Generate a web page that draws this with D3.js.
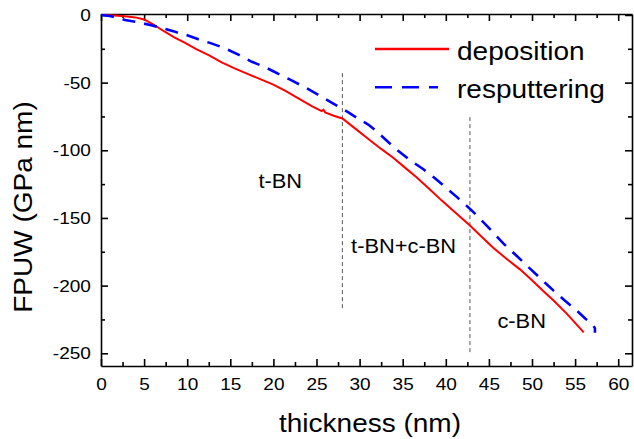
<!DOCTYPE html>
<meta charset="utf-8">
<body style="margin:0;background:#fff">
<svg width="634" height="439"></svg>
</body>
<script src="https://cdn.jsdelivr.net/npm/d3@7"></script>
<script>

// thickness (nm) vs FPUW (GPa nm)
var deposition = [
  [0,0],[1,-0.3],[2,-0.6],[3,-1.1],[4,-1.8],[5,-3.3],[6,-6.8],[7.4,-12.4],[8.5,-16.5],
  [9.7,-20.5],[11,-25],[12.6,-30],[14,-35],[15.5,-39.5],[17,-43.5],[18.4,-47.2],[20,-51.5],
  [21.5,-56.5],[23,-62],[24.5,-67.5],[25.6,-71],[25.8,-70],[26,-72],[27,-74.5],[28,-76.5],
  [29.5,-84],[31.2,-92.6],[32.5,-99],[33.9,-105.5],[35.3,-113],[36.6,-120],[38,-128],
  [39.5,-137],[41,-145.5],[42.8,-155.6],[44,-163],[45.5,-172],[47,-180],[48.6,-188],
  [50,-196],[51.3,-204],[52.5,-211],[54,-220.5],[55,-227.5],[56,-234.6]
];
var resputtering = [
  [0,0],[1,-0.8],[2,-2.2],[2.8,-3.7],[4,-5],[5.7,-7.4],[7,-9.5],[8.6,-12.5],[10,-15],
  [11.3,-18],[12.8,-21],[14.4,-24.7],[16,-29.5],[17.5,-34.6],[19,-38.5],[20.1,-42],
  [22,-48],[23.9,-54.3],[25.5,-60],[26.8,-65],[28.7,-72],[29.8,-76.5],[31,-81],
  [31.8,-85],[33,-92],[34.3,-99.5],[36,-108],[37.4,-114],[38.6,-120],[40,-127.5],
  [41.3,-134.6],[43,-144.4],[44.8,-156],[46.7,-169],[48.3,-178.5],[49.8,-187.6],
  [51.2,-196],[52.5,-203.7],[53.8,-211],[55.2,-218.5],[56.2,-224.5],[56.8,-227.5],
  [57.1,-229.3],[57.3,-231.5],[57.3,-234.8]
];

// phase boundaries: [x, yTop, yBottom]
var boundaries = [[28, -43, -218.5], [42.8, -75.5, -250.5]];

// region labels: [text, x, y]
var regions = [["t-BN", 20.8, -128], ["t-BN+c-BN", 35.1, -176], ["c-BN", 48.8, -231.5]];

var xTicks = d3.range(0, 61, 5);
var xMinor = d3.range(2.5, 61, 5);
var yTicks = [0, -50, -100, -150, -200, -250];
var yMinor = [-25, -75, -125, -175, -225];

var legendItems = [
  {name: "deposition", color: "#ff0000", dash: null},
  {name: "resputtering", color: "#0000ff", dash: "17,10"}
];

var svg = d3.select("svg"),
    font = "Arial, 'Liberation Sans', sans-serif",
    stretch = "scale(1.12,1)";

var plotL = 101, plotR = 632, plotT = 14, plotB = 366;

var x = d3.scaleLinear().domain([0, 61.6]).range([plotL, plotR]);
var y = d3.scaleLinear().domain([0.7, -259.4]).range([plotT, plotB]);

// axes, ticks point inward
function drawAxis(maker, scale, tx, ty, major, minor, labels, pad) {
  svg.append("g")
    .attr("transform", "translate(" + tx + "," + ty + ")")
    .call(maker(scale).tickValues(minor).tickSize(-4).tickSizeOuter(0).tickFormat(""))
    .call(g => g.select(".domain").remove())
    .selectAll("line").attr("stroke", "#000").attr("stroke-width", 1.6);
  var g = svg.append("g")
    .attr("transform", "translate(" + tx + "," + ty + ")")
    .call(maker(scale).tickValues(major).tickSize(-7).tickSizeOuter(0).tickPadding(pad)
      .tickFormat(d => labels ? String(d) : ""));
  g.selectAll("line, path").attr("stroke", "#000").attr("stroke-width", 1.6);
  g.selectAll("text").attr("font-family", font).attr("font-size", 17)
    .attr("fill", "#000").attr("transform", stretch);
  if (!labels) g.selectAll("text").remove();
  return g;
}

drawAxis(d3.axisBottom, x, 0, plotB, xTicks, xMinor, true, 12);
drawAxis(d3.axisTop, x, 0, plotT, xTicks, xMinor, false, 0);
drawAxis(d3.axisLeft, y, plotL, 0, yTicks, yMinor, true, 9);
drawAxis(d3.axisRight, y, plotR, 0, yTicks, yMinor, false, 0);

// phase boundaries
svg.selectAll(".bound").data(boundaries).join("line")
  .attr("class", "bound")
  .attr("x1", d => x(d[0])).attr("x2", d => x(d[0]))
  .attr("y1", d => y(d[1])).attr("y2", d => y(d[2]))
  .attr("stroke", "#555").attr("stroke-width", 1)
  .attr("stroke-dasharray", "4,3");

var line = d3.line().x(d => x(d[0])).y(d => y(d[1]));

svg.append("path").datum(deposition)
  .attr("d", line).attr("fill", "none")
  .attr("stroke", "#ff0000").attr("stroke-width", 2);

svg.append("path").datum(resputtering)
  .attr("d", line).attr("fill", "none")
  .attr("stroke", "#0000ff").attr("stroke-width", 2.6)
  .attr("stroke-dasharray", "13,9");

// region labels
svg.selectAll(".region").data(regions).join("text")
  .attr("class", "region")
  .attr("transform", d => "translate(" + x(d[1]) + "," + y(d[2]) + ") " + stretch)
  .attr("text-anchor", "middle")
  .attr("font-family", font).attr("font-size", 19.5)
  .text(d => d[0]);

// legend
var leg = svg.append("g").attr("transform", "translate(375,49)");
legendItems.forEach(function(d, i) {
  var row = leg.append("g").attr("transform", "translate(0," + (i * 38.3) + ")");
  row.append("line").attr("x1", 0).attr("x2", i ? 63 : 74)
    .attr("stroke", d.color).attr("stroke-width", 2.6)
    .attr("stroke-dasharray", d.dash);
  row.append("text")
    .attr("transform", "translate(82,11) " + stretch)
    .attr("font-family", font).attr("font-size", 25)
    .text(d.name);
});

// axis titles
svg.append("text")
  .attr("transform", "translate(370,432) " + stretch)
  .attr("text-anchor", "middle")
  .attr("font-family", font).attr("font-size", 25)
  .text("thickness (nm)");

svg.append("text")
  .attr("transform", "translate(32,207) rotate(-90) " + stretch)
  .attr("text-anchor", "middle")
  .attr("font-family", font).attr("font-size", 25)
  .text("FPUW (GPa nm)");

</script>
